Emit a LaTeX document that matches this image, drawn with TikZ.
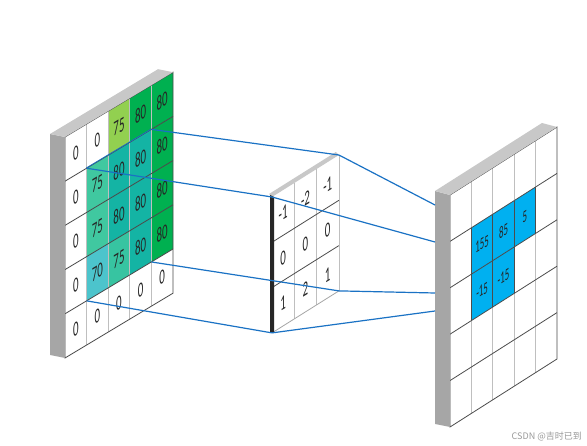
\documentclass[tikz,border=0pt]{standalone}
\usepackage{fontspec}
\setmainfont{Carlito}
\newfontfamily\cjk{Noto Sans CJK SC}
\usetikzlibrary{calc}
\definecolor{lgreen}{HTML}{92D050}
\definecolor{dgreen}{HTML}{00B050}
\definecolor{teal80}{HTML}{14B4A4}
\definecolor{mint75}{HTML}{40C8A0}
\definecolor{cyan70}{HTML}{4CC4CC}
\definecolor{outblue}{HTML}{00B0F0}
\definecolor{linkblue}{HTML}{1A72C4}
\definecolor{sidegray}{HTML}{A6A6A6}
\definecolor{topgray}{HTML}{C8C8C8}
\begin{document}
\begin{tikzpicture}[x=1pt,y=-1pt]
  \tikzstyle{num}=[font=\fontsize{21}{21}\selectfont, text=black!85, yslant=0.6, xscale=0.52, inner sep=0pt]
  \tikzstyle{small}=[font=\fontsize{17}{17}\selectfont, text=black!85, yslant=0.62, xscale=0.52, inner sep=0pt]
  \tikzstyle{vline}=[draw=gray!50, line width=0.8pt]
  \tikzstyle{hline}=[draw=black!70, line width=0.8pt]
  \tikzstyle{link}=[draw=linkblue, line width=1.2pt]
  \useasboundingbox (0,0) rectangle (587,446);

  % input 5x5
  \begin{scope}[cm={21.6,12.96,0,44.2,(65pt,-137pt)}]
    \coordinate (in-tl) at (0,0);
    \coordinate (in-tr) at (5,0);
    \coordinate (in-bl) at (0,5);
    \fill[white] (0,0) rectangle (5,5);
    \fill[lgreen] (2,0) rectangle (3,1);
    \fill[dgreen] (3,0) rectangle (5,1);
    \fill[dgreen] (4,1) rectangle (5,4);
    \fill[teal80] (1,1) rectangle (4,4);
    \fill[mint75] (1,1) rectangle (2,3);
    \fill[cyan70] (1,3) rectangle (2,4);
    \fill[mint75!80!teal80] (2,3) rectangle (3,4);
    \coordinate (ov-tl) at (1,1);
    \coordinate (ov-tr) at (4,1);
    \coordinate (ov-bl) at (1,4);
    \coordinate (ov-br) at (4,4);
    \foreach \i in {1,...,4} \draw[vline] (\i,0) -- (\i,5);
    \foreach \j in {1,...,4} \draw[hline] (0,\j) -- (5,\j);
    \draw[hline] (0,0) rectangle (5,5);
    \draw[link, line width=0.8pt] (ov-tl) -- (ov-tr);
    \foreach \v [count=\i from 0] in {0,0,75,80,80} \node[num] at (\i+0.5,0.5) {\v};
    \foreach \v [count=\i from 0] in {0,75,80,80,80} \node[num] at (\i+0.5,1.5) {\v};
    \foreach \v [count=\i from 0] in {0,75,80,80,80} \node[num] at (\i+0.5,2.5) {\v};
    \foreach \v [count=\i from 0] in {0,70,75,80,80} \node[num] at (\i+0.5,3.5) {\v};
    \foreach \v [count=\i from 0] in {0,0,0,0,0} \node[num] at (\i+0.5,4.5) {\v};
  \end{scope}
  \fill[sidegray] (in-tl) -- (in-bl) -- ($(in-bl)+(-15,-3)$) -- ($(in-tl)+(-15,-3)$) -- cycle;
  \fill[topgray] (in-tl) -- (in-tr) -- ($(in-tr)+(-15,-3)$) -- ($(in-tl)+(-15,-3)$) -- cycle;

  % kernel 3x3
  \begin{scope}[cm={22.3,14,0,45.3,(272pt,-197pt)}]
    \coordinate (k-tl) at (0,0);
    \coordinate (k-tr) at (3,0);
    \coordinate (k-bl) at (0,3);
    \coordinate (k-br) at (3,3);
    \fill[white] (0,0) rectangle (3,3);
    \foreach \i in {1,2,3} \draw[vline] (\i,0) -- (\i,3);
    \foreach \j in {1,2} \draw[hline] (0,\j) -- (3,\j);
    \draw[draw=gray!70, line width=0.8pt] (0,3) -- (3,3);
    \foreach \v [count=\i from 0] in {-1,-2,-1} \node[num] at (\i+0.5,0.5) {\v};
    \foreach \v [count=\i from 0] in {0,0,0} \node[num] at (\i+0.5,1.5) {\v};
    \foreach \v [count=\i from 0] in {1,2,1} \node[num] at (\i+0.5,2.5) {\v};
  \end{scope}
  \fill[topgray] (k-tl) -- (k-tr) -- ($(k-tr)+(-3,-3)$) -- ($(k-tl)+(-3,-3)$) -- cycle;
  \fill[black!85] ($(k-tl)+(2,0)$) -- ($(k-bl)+(2,0)$) -- ($(k-bl)+(-2,0)$) -- ($(k-tl)+(-2,-2)$) -- cycle;

  % output 5x5
  \begin{scope}[cm={21.4,13.6,0,46.4,(450pt,-195pt)}]
    \coordinate (out-tl) at (0,0);
    \coordinate (out-tr) at (5,0);
    \coordinate (out-bl) at (0,5);
    \fill[white] (0,0) rectangle (5,5);
    \fill[outblue] (1,1) rectangle (4,2);
    \fill[outblue] (1,2) rectangle (3,3);
    \foreach \i in {1,...,4} \draw[vline] (\i,0) -- (\i,5);
    \foreach \j in {1,...,4} \draw[hline] (0,\j) -- (5,\j);
    \draw[hline] (1,1) -- (1,3) (2,1) -- (2,3) (3,1) -- (3,3) (4,1) -- (4,2);
    \draw[hline] (0,0) rectangle (5,5);
    \foreach \v [count=\i from 1] in {155,85,5} \node[small] at (\i+0.5,1.5) {\v};
    \foreach \v [count=\i from 1] in {-15,-15} \node[small] at (\i+0.5,2.5) {\v};
  \end{scope}
  \fill[sidegray] (out-tl) -- (out-bl) -- ($(out-bl)+(-15,-3)$) -- ($(out-tl)+(-15,-4)$) -- cycle;
  \fill[topgray] (out-tl) -- (out-tr) -- ($(out-tr)+(-15,-4)$) -- ($(out-tl)+(-15,-4)$) -- cycle;

  % links
  \coordinate (o-a) at (435,205);
  \coordinate (o-b) at (435,242);
  \coordinate (o-c) at (435,293);
  \coordinate (o-d) at (435,311);
  \draw[link] (ov-tr) -- (k-tr);
  \draw[link] (ov-tl) -- (k-tl);
  \draw[link] (ov-br) -- (k-br);
  \draw[link] (ov-bl) -- (k-bl);
  \draw[link] (k-tr) -- (o-a);
  \draw[link] (k-tl) -- (o-b);
  \draw[link] (k-br) -- (o-c);
  \draw[link] (k-bl) -- (o-d);

  \node[font=\cjk\fontsize{9}{9}\selectfont, text=gray!80, anchor=east, inner sep=0pt] (mark) at (582,436) {CSDN @吉时已到};
\end{tikzpicture}
\end{document}
